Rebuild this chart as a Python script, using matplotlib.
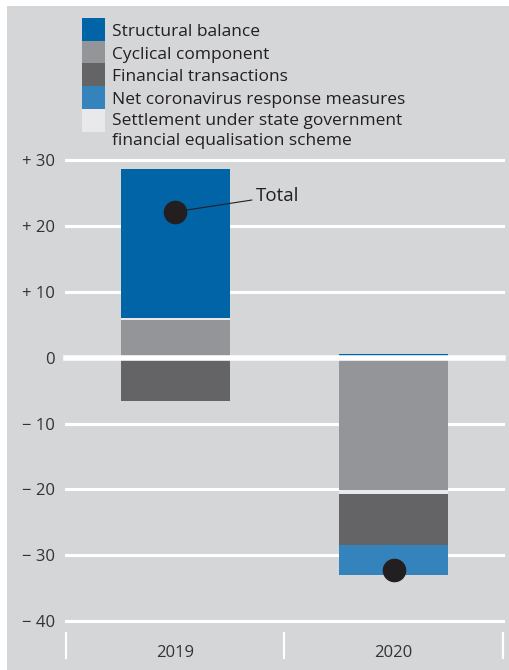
import numpy as np
import matplotlib
matplotlib.use('Agg')
import matplotlib.pyplot as plt
from matplotlib.patches import Rectangle
import matplotlib.transforms as mtransforms

plt.rcParams['font.family'] = ['Open Sans', 'DejaVu Sans']

# data (% / EUR bn)
years = ['2019', '2020']
cyclical = [5.7, -20.1]
settlement = [0.4, -0.6]
structural = [22.6, 0.6]
financial = [-6.5, -7.7]
corona = [0.0, -4.6]
total = [22.2, -32.2]

yticks = [30, 20, 10, 0, -10, -20, -30, -40]

c_struct = '#0064a7'
c_cycl = '#949598'
c_fin = '#646466'
c_corona = '#3583bd'
c_settle = '#e9e9eb'
bg = '#d5d6d8'
txt = '#231f20'

W, H = 510, 670
fig = plt.figure(figsize=(W / 100, H / 100), dpi=100, facecolor='white')
fig.patches.append(Rectangle((7 / W, 0), 1, 1 - 6 / H, transform=fig.transFigure,
                             facecolor=bg, edgecolor='none', zorder=-10))

ax = fig.add_axes([66 / W, 1 - 621 / H, (503 - 66) / W, (621 - 160.5) / H])
ax.set_facecolor('none')
for s in ax.spines.values():
    s.set_visible(False)

x = np.arange(len(years))
series = [(cyclical, c_cycl), (settlement, c_settle), (structural, c_struct),
          (financial, c_fin), (corona, c_corona)]
pos = np.zeros(len(years))
neg = np.zeros(len(years))
for vals, col in series:
    v = np.array(vals)
    bottom = np.where(v >= 0, pos, neg)
    ax.bar(x, v, 0.5, bottom=bottom, color=col, edgecolor='none', zorder=2)
    pos = pos + np.where(v > 0, v, 0)
    neg = neg + np.where(v < 0, v, 0)

ax.plot(x, total, 'o', color='#231f20', markersize=16, zorder=4)
ax.annotate('Total', xy=(x[0], total[0]), xytext=(0.37, 24.6),
            fontsize=13.5, fontweight='medium', color=txt, va='center', ha='left',
            arrowprops=dict(arrowstyle='-', color='#231f20', lw=0.8,
                            shrinkA=1, shrinkB=0), zorder=5)

ax.set_xlim(-0.5, 1.5)
ax.set_ylim(-40, 30)
ax.set_yticks(yticks)
ax.set_yticklabels(['+ %d' % t if t > 0 else ('0' if t == 0 else '\u2212 %d' % -t)
                    for t in yticks])
ax.set_xticks(x)
ax.set_xticklabels(years)
ax.tick_params(axis='both', length=0, labelsize=12, labelcolor='#333333')
ax.tick_params(axis='y', pad=8)
ax.tick_params(axis='x', pad=17)

for t in yticks:
    if t == 0:
        ax.axhline(0, color='white', lw=4, zorder=3, clip_on=False)
    else:
        ax.axhline(t, color='white', lw=2.2, zorder=1, clip_on=False)

# category separators below the axis
trans = mtransforms.blended_transform_factory(ax.transData, ax.transAxes)
for sx in [-0.5, 0.5, 1.5]:
    ax.plot([sx, sx], [-0.024, -0.083], color='white', lw=1.6, transform=trans,
            clip_on=False, solid_capstyle='butt')

# legend
leg_items = [(c_struct, 'Structural balance'), (c_cycl, 'Cyclical component'),
             (c_fin, 'Financial transactions'), (c_corona, 'Net coronavirus response measures'),
             (c_settle, 'Settlement under state government')]
tops = [18, 41, 63.5, 86, 109, 132]
baselines = [36, 58.7, 81.3, 104, 125]
for i, (col, lab) in enumerate(leg_items):
    fig.patches.append(Rectangle((82 / W, 1 - tops[i + 1] / H), 23 / W,
                                 (tops[i + 1] - tops[i]) / H, transform=fig.transFigure,
                                 facecolor=col, edgecolor='none'))
    fig.text(112 / W, 1 - baselines[i] / H, lab, fontsize=12.5, color=txt, va='baseline')
fig.text(112 / W, 1 - 145 / H, 'financial equalisation scheme', fontsize=12.5, color=txt,
         va='baseline')

fig.savefig('out.png', dpi=100, facecolor='white')
